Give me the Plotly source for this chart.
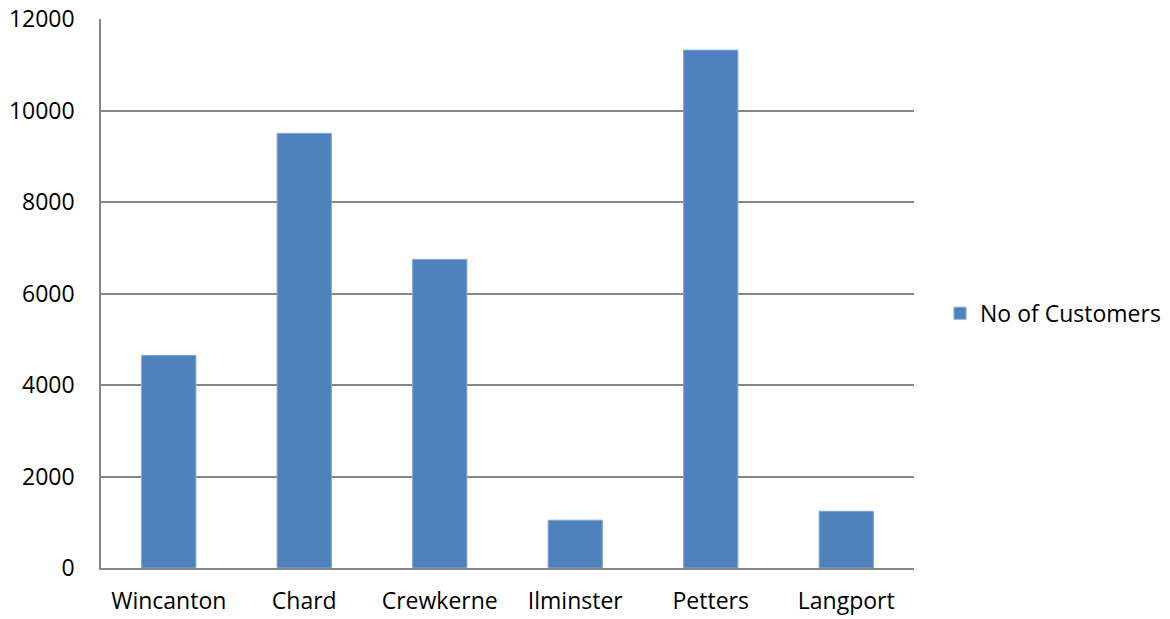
import plotly.graph_objects as go

categories = ["Wincanton", "Chard", "Crewkerne", "Ilminster", "Petters", "Langport"]
customers = [4645, 9500, 6745, 1045, 11320, 1240]
series_name = "No of Customers"
y_ticks = [0, 2000, 4000, 6000, 8000, 10000, 12000]

FONT = "Open Sans"
FS = 23

fig = go.Figure()
fig.add_trace(go.Bar(
    x=categories,
    y=customers,
    name=series_name,
    marker=dict(color="#4F81BD", line=dict(color="#7FA3D3", width=1)),
    showlegend=True,
))

fig.update_layout(
    width=1170,
    height=619,
    margin=dict(l=101, r=256, t=19, b=51, autoexpand=False),
    paper_bgcolor="white",
    plot_bgcolor="white",
    bargap=0.6,
    font=dict(family=FONT, size=FS, color="#000000"),
    showlegend=True,
    legend=dict(
        x=1.032, y=0.464, xanchor="left", yanchor="middle",
        font=dict(family=FONT, size=FS, color="#000000"),
        bgcolor="rgba(0,0,0,0)",
        itemwidth=30,
    ),
    xaxis=dict(
        automargin=False,
        showline=True, linecolor="#868686", linewidth=1.5,
        showgrid=False, ticks="", ticklabelstandoff=12,
        tickfont=dict(family=FONT, size=FS),
    ),
    yaxis=dict(
        automargin=False,
        range=[0, 12000],
        tickvals=y_ticks,
        ticktext=[str(v) for v in y_ticks],
        showline=True, linecolor="#868686", linewidth=1.5,
        showgrid=True, gridcolor="#868686", gridwidth=1.5,
        zeroline=False,
        ticks="", ticklabelstandoff=20,
        tickfont=dict(family=FONT, size=FS),
    ),
)

fig.write_html("out.html")
